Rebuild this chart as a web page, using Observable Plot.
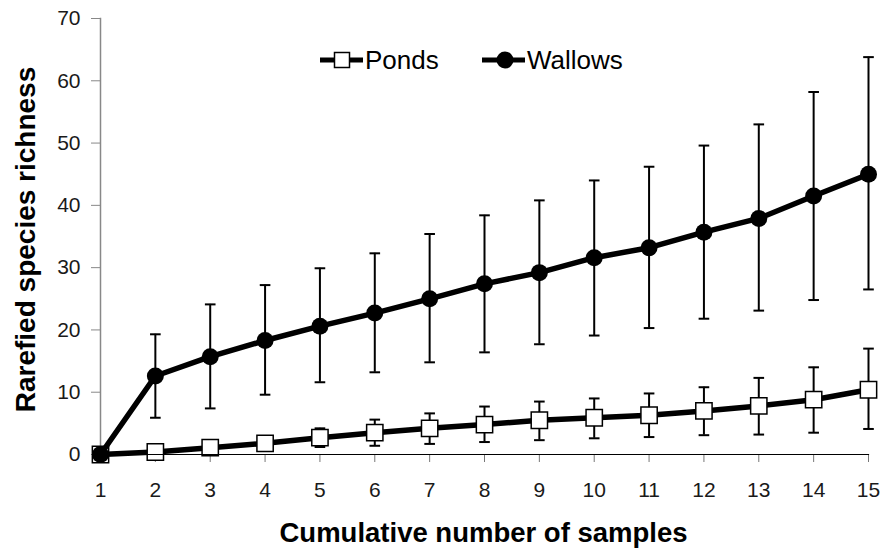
<!DOCTYPE html>
<html>
<head>
<meta charset="utf-8">
<script src="https://cdn.jsdelivr.net/npm/d3@7"></script>
<script src="https://cdn.jsdelivr.net/npm/@observablehq/plot@0.6"></script>
<style>
  html, body { margin: 0; padding: 0; background: #fff; }
  #wrap { position: relative; width: 880px; height: 549px; font-family: "Liberation Sans", Arial, sans-serif; }
  .item { position: absolute; top: 45px; display: flex; align-items: center; font-size: 26px; color: #000; line-height: 30px; }
  .item svg { margin-right: 1px; }
</style>
</head>
<body>
<div id="wrap">
  <div id="chart"></div>
  <div id="legend"></div>
</div>
<script>
const samples = [1,2,3,4,5,6,7,8,9,10,11,12,13,14,15];
const seriesNames = ["Ponds", "Wallows"];
const pondsMean  = [0, 0.4, 1.1, 1.8, 2.7, 3.5, 4.2, 4.8, 5.5, 5.9, 6.3, 7.0, 7.8, 8.8, 10.4];
const pondsLow   = [null, null, null, null, 1.2, 1.4, 1.7, 2.0, 2.3, 2.6, 2.8, 3.1, 3.2, 3.5, 4.1];
const pondsHigh  = [null, null, null, null, 4.2, 5.6, 6.6, 7.7, 8.5, 9.0, 9.8, 10.8, 12.3, 14.0, 17.0];
const wallowsMean = [0, 12.6, 15.7, 18.3, 20.6, 22.7, 25.0, 27.4, 29.2, 31.6, 33.2, 35.7, 37.9, 41.5, 45.0];
const wallowsLow  = [null, 5.9, 7.4, 9.6, 11.6, 13.2, 14.8, 16.4, 17.7, 19.1, 20.3, 21.8, 23.1, 24.8, 26.5];
const wallowsHigh = [null, 19.3, 24.1, 27.2, 29.9, 32.3, 35.4, 38.4, 40.8, 44.0, 46.2, 49.6, 53.0, 58.2, 63.8];
const yTicks = [0,10,20,30,40,50,60,70];
const xLabel = "Cumulative number of samples";
const yLabel = "Rarefied species richness";

const ponds = samples.map((x,i) => ({x, y: pondsMean[i], lo: pondsLow[i], hi: pondsHigh[i]}));
const wallows = samples.map((x,i) => ({x, y: wallowsMean[i], lo: wallowsLow[i], hi: wallowsHigh[i]}));
const pondsErr = ponds.filter(d => d.lo != null);
const wallowsErr = wallows.filter(d => d.lo != null);

// horizontal cap symbol for error bars
const cap = { draw(ctx, size) { const w = Math.sqrt(size); ctx.moveTo(-w/2, 0); ctx.lineTo(w/2, 0); } };

function errMarks(data) {
  return [
    Plot.ruleX(data, {x: "x", y1: "lo", y2: "hi", stroke: "#000", strokeWidth: 2}),
    Plot.dot(data, {x: "x", y: "lo", symbol: cap, r: 6, stroke: "#000", strokeWidth: 2}),
    Plot.dot(data, {x: "x", y: "hi", symbol: cap, r: 6, stroke: "#000", strokeWidth: 2})
  ];
}

const chart = Plot.plot({
  width: 880,
  height: 549,
  marginLeft: 100,
  marginRight: 12,
  marginTop: 18,
  marginBottom: 95,
  style: {fontFamily: "'Liberation Sans', Arial, sans-serif", background: "#fff"},
  x: {domain: [1, 15]},
  y: {domain: [0, 70]},
  marks: [
    Plot.frame({anchor: "left", stroke: "#888", strokeWidth: 1.5}),
    Plot.axisY({ticks: yTicks, tickSize: 9, tickPadding: 11, stroke: "#888", fontSize: 21, fill: "#1a1a1a", label: null}),
    Plot.axisX({ticks: samples, tickSize: 8, tickPadding: 20, stroke: "#777", fontSize: 21, fill: "#1a1a1a", label: null}),
    ...errMarks(pondsErr),
    Plot.line(ponds, {x: "x", y: "y", stroke: "#000", strokeWidth: 5.5}),
    Plot.dot(ponds, {x: "x", y: "y", symbol: "square", r: 9.2, fill: "#fff", stroke: "#000", strokeWidth: 1.5}),
    ...errMarks(wallowsErr),
    Plot.line(wallows, {x: "x", y: "y", stroke: "#000", strokeWidth: 5.5}),
    Plot.dot(wallows, {x: "x", y: "y", r: 8.5, fill: "#000"}),
    Plot.frame({anchor: "bottom", stroke: "#000", strokeWidth: 1.2}),
    Plot.text([xLabel], {text: d => d, frameAnchor: "bottom", dx: -1, dy: 87, fontSize: 27.5, fontWeight: "bold", fill: "#000"}),
    Plot.text([yLabel], {text: d => d, frameAnchor: "left", textAnchor: "middle", rotate: -90, dx: -74, dy: 3, fontSize: 28, fontWeight: "bold", fill: "#000"})
  ]
});
document.getElementById("chart").appendChild(chart);

// Legend (HTML overlay)
const legend = d3.select("#legend");
const legendLeft = [318, 480];
seriesNames.forEach((name, i) => {
  const item = legend.append("div").attr("class", "item").style("left", legendLeft[i] + "px");
  const s = item.append("svg").attr("width", 46).attr("height", 20);
  s.append("line").attr("x1", 2).attr("x2", 45).attr("y1", 10).attr("y2", 10).attr("stroke", "#000").attr("stroke-width", 5);
  if (i === 0) s.append("rect").attr("x", 16.5).attr("y", 2.5).attr("width", 15).attr("height", 15).attr("fill", "#fff").attr("stroke", "#000").attr("stroke-width", 1.5);
  else s.append("circle").attr("cx", 25).attr("cy", 10).attr("r", 8.5).attr("fill", "#000");
  item.append("span").text(name);
});
</script>
</body>
</html>
